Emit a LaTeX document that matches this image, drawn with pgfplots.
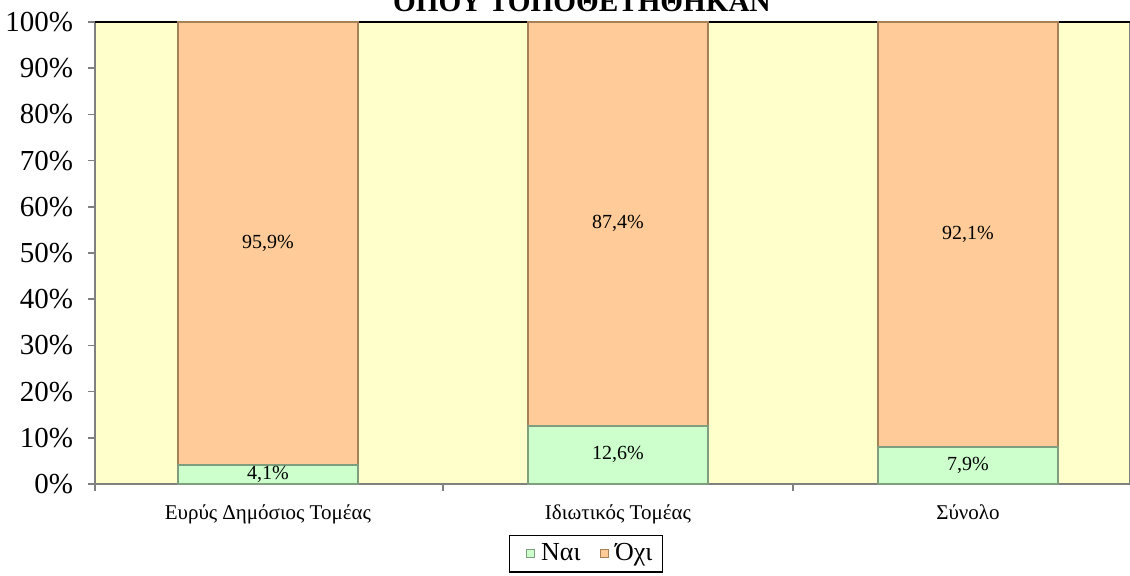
\documentclass[border=0pt]{standalone}
\usepackage{pgfplots}
\pgfplotsset{compat=1.18}
\usepackage{fontspec}
\setmainfont{Liberation Serif}

\definecolor{bgyellow}{HTML}{FFFFCC}
\definecolor{naifill}{HTML}{CCFFCC}
\definecolor{naiedge}{HTML}{7E9E7E}
\definecolor{oxifill}{HTML}{FFCC99}
\definecolor{oxiedge}{HTML}{A88058}

\pgfplotsset{
  chartbase/.style={
    at={(0pt,0pt)}, anchor=south west,
    scale only axis, width=517.5pt, height=231pt,
    xmin=-0.494, xmax=2.463, ymin=0, ymax=100,
  },
}

\begin{document}
\begin{tikzpicture}
\begin{axis}[chartbase, clip=false,
  ybar stacked, bar width=90pt,
  axis background/.style={fill=bgyellow},
  axis line style={gray, line width=0.8pt},
  tick align=outside,
  tick style={gray, line width=0.8pt},
  xtick pos=bottom, ytick pos=left,
  major tick length=3.5pt, minor tick length=3.5pt,
  xtick={0,1,2},
  xticklabels={Ευρύς Δημόσιος Τομέας, Ιδιωτικός Τομέας, Σύνολο},
  major x tick style={draw=none},
  minor xtick={-0.494,0.5,1.5},
  xticklabel style={font=\fontsize{10.5}{12}\selectfont, yshift=-3.5pt},
  ytick={0,10,...,100},
  yticklabels={0\%,10\%,20\%,30\%,40\%,50\%,60\%,70\%,80\%,90\%,100\%},
  yticklabel style={font=\fontsize{14.5}{16}\selectfont, xshift=-4pt},
]
\addplot[fill=naifill, draw=naiedge, line width=1pt] coordinates {(0,4.1) (1,12.6) (2,7.9)};
\addplot[fill=oxifill, draw=oxiedge, line width=1pt] coordinates {(0,95.9) (1,87.4) (2,92.1)};
\draw[black, line width=1.2pt] (rel axis cs:0,1) -- (rel axis cs:1,1);
\node[anchor=base, yshift=5pt, inner sep=0pt, font=\bfseries\fontsize{14.6}{16}\selectfont]
  at (rel axis cs:0.4705,1) {ΟΠΟΥ ΤΟΠΟΘΕΤΗΘΗΚΑΝ};
\end{axis}

\begin{axis}[chartbase, hide axis,
  legend columns=2,
  legend style={at={(0.4744,-0.1104)}, anchor=north, draw=black, line width=0.75pt,
    font=\fontsize{13}{15}\selectfont,
    /tikz/every even column/.append style={column sep=2.5pt}},
]
\addplot[draw=none, forget plot, nodes near coords, point meta=explicit symbolic,
  nodes near coords align={anchor=center},
  every node near coord/.append style={font=\fontsize{10}{12}\selectfont}]
  coordinates {(0,2.05)[4,1\%] (1,6.3)[12,6\%] (2,3.95)[7,9\%]};
\addplot[draw=none, forget plot, nodes near coords, point meta=explicit symbolic,
  nodes near coords align={anchor=center},
  every node near coord/.append style={font=\fontsize{10}{12}\selectfont}]
  coordinates {(0,52.05)[95,9\%] (1,56.3)[87,4\%] (2,53.95)[92,1\%]};
\addlegendimage{legend image code/.code={\path (-5pt,0pt) (5pt,0pt);
  \draw[fill=naifill, draw=naiedge, line width=0.6pt] (0pt,-2pt) rectangle (4pt,2pt);}}
\addlegendentry{Ναι}
\addlegendimage{legend image code/.code={\path (-5pt,0pt) (5pt,0pt);
  \draw[fill=oxifill, draw=oxiedge, line width=0.6pt] (0pt,-2pt) rectangle (4pt,2pt);}}
\addlegendentry{Όχι}
\end{axis}
\pgfresetboundingbox
\path[use as bounding box] (-47.5pt,-46pt) rectangle (517.5pt,242pt);
\end{tikzpicture}
\end{document}
